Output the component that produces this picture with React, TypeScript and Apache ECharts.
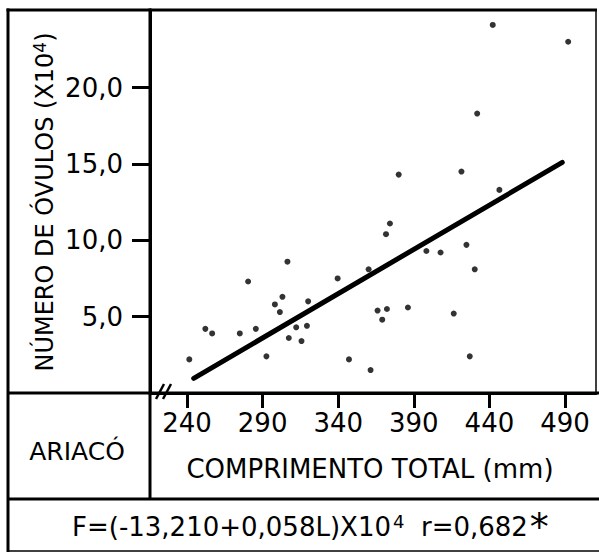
import React, { useEffect, useRef } from "react";
import * as echarts from "echarts";

const FONT = "DejaVu Sans";

const xTicks = [240, 290, 340, 390, 440, 490];
const yTicks = [5, 10, 15, 20];

const lengths = [
  241.5, 252.1, 256.6, 274.9, 280.4, 285.5, 292.5, 298.1, 301.4, 303.1,
  306.4, 307.3, 312.2, 315.7, 319.3, 320.1, 339.6, 347.1, 360.1, 361.4,
  366.0, 369.1, 372.2, 371.6, 374.2, 380.0, 386.1, 398.3, 407.7, 416.4,
  421.5, 424.8, 427.0, 430.3, 431.9, 442.2, 446.6, 492.1,
];
const ovules = [
  2.2, 4.2, 3.9, 3.9, 7.3, 4.2, 2.4, 5.8, 5.3, 6.3,
  8.6, 3.6, 4.3, 3.4, 4.4, 6.0, 7.5, 2.2, 8.1, 1.5,
  5.4, 4.8, 5.5, 10.4, 11.1, 14.3, 5.6, 9.3, 9.2, 5.2,
  14.5, 9.7, 2.4, 8.1, 18.3, 24.1, 13.3, 23.0,
];
const fitLengths = [244.4, 488.2];
const fitValues = [0.96, 15.1];

const yLabelText = "{a|NÚMERO DE ÓVULOS (X10}{s|4}{a|)}";
const xTitleText = "COMPRIMENTO TOTAL (mm)";
const siteText = "ARIACÓ";
const eqText = "{a|F=(-13,210+0,058L)X10}{s|4}{a|  r=0,682}{k|*}";

export default function App() {
  const ref = useRef<HTMLDivElement>(null);
  useEffect(() => {
    if (!ref.current) return;
    const chart = echarts.init(ref.current, undefined, { renderer: "svg" });
    const black = "#000";
    const ln = (x1: number, y1: number, x2: number, y2: number, w: number) => ({
      type: "line",
      shape: { x1, y1, x2, y2 },
      style: { stroke: black, lineWidth: w, lineCap: "butt" },
      z: 10,
    });
    chart.setOption({
      animation: false,
      backgroundColor: "#fff",
      grid: { left: 150, top: 10, width: 446, height: 383 },
      xAxis: {
        type: "value",
        min: 215.5,
        max: 510.5,
        axisLine: { show: true, lineStyle: { color: black, width: 3 } },
        splitLine: { show: false },
        axisTick: {
          show: true,
          customValues: xTicks,
          length: 15,
          lineStyle: { color: black, width: 3 },
        },
        axisLabel: {
          customValues: xTicks,
          margin: 17,
          fontSize: 26,
          fontFamily: FONT,
          color: black,
        },
      },
      yAxis: {
        type: "value",
        min: 0,
        max: 25.08,
        axisLine: { show: true, lineStyle: { color: black, width: 3 } },
        splitLine: { show: false },
        axisTick: {
          show: true,
          customValues: yTicks,
          length: 18,
          lineStyle: { color: black, width: 3 },
        },
        axisLabel: {
          customValues: yTicks,
          margin: 27,
          fontSize: 26,
          fontFamily: FONT,
          color: black,
          formatter: (v: number) => v.toFixed(1).replace(".", ","),
        },
      },
      series: [
        {
          type: "scatter",
          data: lengths.map((x, i) => [x, ovules[i]]),
          symbol: "circle",
          symbolSize: 6,
          itemStyle: { color: black },
        },
        {
          type: "line",
          data: fitLengths.map((x, i) => [x, fitValues[i]]),
          symbol: "none",
          lineStyle: { color: black, width: 5, cap: "round" },
        },
      ],
      graphic: [
        ln(6.5, 10, 597, 10, 3),
        ln(8, 8.5, 8, 552, 3),
        ln(596, 10, 596, 393, 1.5),
        ln(8, 393, 599, 393, 3),
        ln(8, 499, 599, 499, 3),
        ln(8, 551, 599, 551, 1.5),
        ln(150, 8.5, 150, 500, 3),
        ln(156, 399, 164, 384, 2.5),
        ln(163, 399, 171, 384, 2.5),
        {
          type: "text",
          x: 45,
          y: 202,
          rotation: Math.PI / 2,
          style: {
            text: yLabelText,
            align: "center",
            verticalAlign: "middle",
            fill: black,
            rich: {
              a: { fontSize: 24, fontFamily: FONT, fill: black },
              s: { fontSize: 17, fontFamily: FONT, fill: black, padding: [0, 0, 10, 0] },
            },
          },
        },
        {
          type: "text",
          x: 370,
          y: 469,
          style: {
            text: xTitleText,
            align: "center",
            verticalAlign: "middle",
            fontSize: 26,
            fontFamily: FONT,
            fill: black,
          },
        },
        {
          type: "text",
          x: 77,
          y: 451,
          style: {
            text: siteText,
            align: "center",
            verticalAlign: "middle",
            fontSize: 25,
            fontFamily: FONT,
            fill: black,
          },
        },
        {
          type: "text",
          x: 72,
          y: 527,
          style: {
            text: eqText,
            align: "left",
            verticalAlign: "middle",
            fill: black,
            rich: {
              a: { fontSize: 26, fontFamily: FONT, fill: black },
              s: { fontSize: 18, fontFamily: FONT, fill: black, padding: [0, 0, 12, 2] },
              k: { fontSize: 38, fontFamily: FONT, fill: black, padding: [0, 0, 0, 2] },
            },
          },
        },
      ],
    });
    return () => chart.dispose();
  }, []);
  return (
    <div
      ref={ref}
      style={{ position: "fixed", left: 0, top: 0, width: 599, height: 554 }}
    />
  );
}
